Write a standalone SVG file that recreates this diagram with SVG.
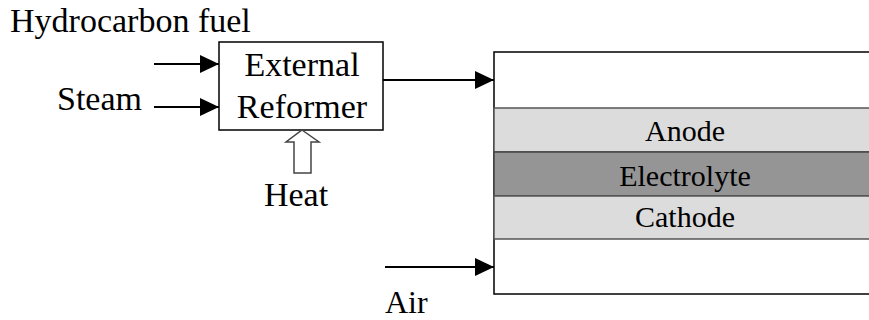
<svg xmlns="http://www.w3.org/2000/svg" width="869" height="320" viewBox="0 0 869 320">
<style>
text{font-family:"Liberation Serif","Times New Roman",serif;fill:#000}
.big{font-size:34px}
.lay{font-size:30px}
.line{stroke:#000;stroke-width:2.2;fill:none}
</style>
<defs>
<marker id="ah" markerWidth="19" markerHeight="18" refX="19" refY="9" orient="auto" markerUnits="userSpaceOnUse">
<path d="M0,0 L19,9 L0,18 Z" fill="#000"/>
</marker>
</defs>
<rect width="869" height="320" fill="#fff"/>
<g id="fuelcell">
<rect x="494" y="52" width="400" height="242" fill="#fff" stroke="#000" stroke-width="1.5"/>
<rect x="494" y="108" width="400" height="44" fill="#dcdcdc" stroke="#555" stroke-width="1.5"/>
<rect x="494" y="152" width="400" height="44" fill="#959595" stroke="#444" stroke-width="1.5"/>
<rect x="494" y="196" width="400" height="43" fill="#dcdcdc" stroke="#555" stroke-width="1.5"/>
<text class="lay" x="685" y="141" text-anchor="middle">Anode</text>
<text class="lay" x="685" y="186" text-anchor="middle">Electrolyte</text>
<text class="lay" x="685" y="227" text-anchor="middle">Cathode</text>
</g>
<g id="reformer">
<rect x="219" y="42" width="164" height="88" fill="#fff" stroke="#000" stroke-width="1.5"/>
<text class="big" x="302" y="76" text-anchor="middle">External</text>
<text class="big" x="302" y="118" text-anchor="middle">Reformer</text>
</g>
<g id="fuel"><text class="big" x="10" y="32">Hydrocarbon fuel</text></g>
<g id="steam"><text class="big" x="57" y="110">Steam</text></g>
<g id="heat">
<path d="M302,130 L319,142 L311,142 L311,173 L294,173 L294,142 L286,142 Z" fill="#fff" stroke="#444" stroke-width="1.5"/>
<text class="big" x="296" y="206" text-anchor="middle">Heat</text>
</g>
<g id="air"><text class="big" x="385" y="313" style="font-size:32px">Air</text></g>
<g id="connectors">
<line class="line" x1="154" y1="64" x2="219" y2="64" marker-end="url(#ah)"/>
<line class="line" x1="154" y1="107" x2="219" y2="107" marker-end="url(#ah)"/>
<line class="line" x1="383" y1="80" x2="494" y2="80" marker-end="url(#ah)"/>
<line class="line" x1="385" y1="267" x2="494" y2="267" marker-end="url(#ah)"/>
</g>
</svg>
